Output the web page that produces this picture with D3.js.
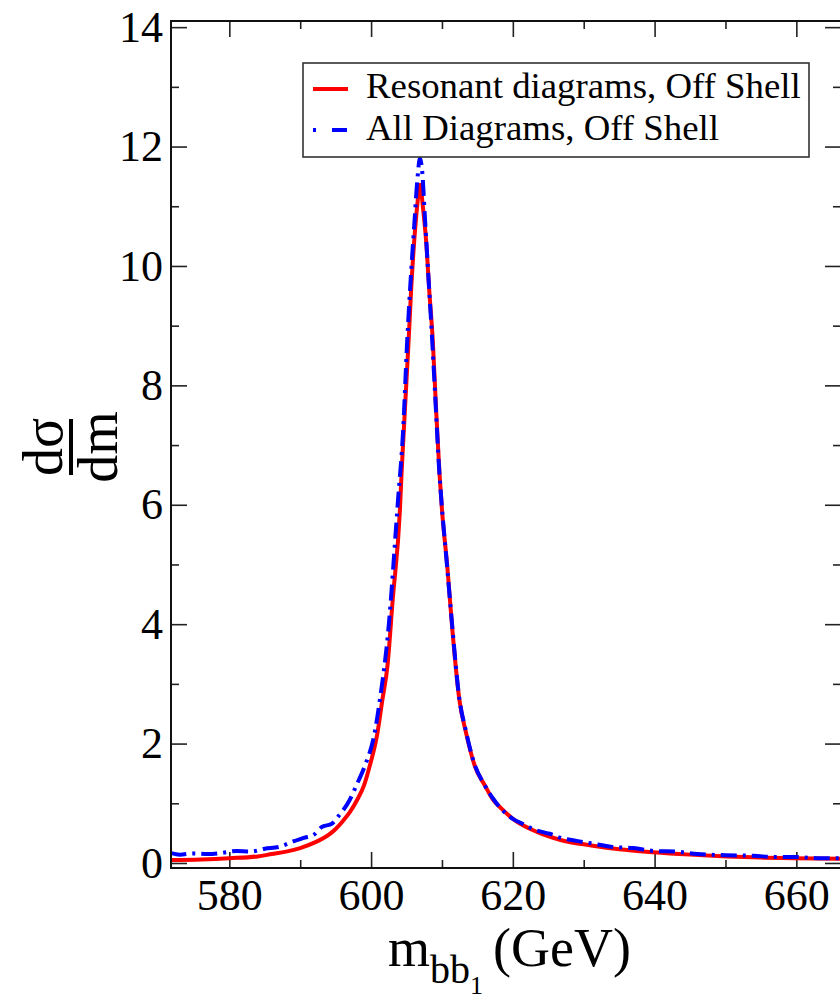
<!DOCTYPE html>
<html>
<head>
<meta charset="utf-8">
<script src="https://cdn.jsdelivr.net/npm/d3@7"></script>
<style>
  body { margin: 0; background: #fff; }
  svg { display: block; }
</style>
</head>
<body>
<div id="grafico"></div>
<script>
// dados: massa (GeV) e dσ/dm
const massaRes = [571.7, 576, 580, 584, 586, 588, 590, 592, 594, 595, 596, 597, 598, 599, 599.75, 600.9, 601.6, 602.3,
  603.05, 604.07, 604.3, 604.8, 605.3, 605.65, 606.1, 606.5, 606.92, 607.3, 607.75, 608.2, 608.7, 609.15,
  609.65, 610.0, 610.75, 611.5, 612.45, 613.4, 614.65, 616.1, 617.2, 618.4, 620.1, 623.4, 626.6, 631.3,
  635, 639.8, 645, 650.2, 655, 659.5, 666.5];
const valorRes = [0.05, 0.06, 0.08, 0.11, 0.15, 0.19, 0.25, 0.34, 0.47, 0.57, 0.7, 0.85, 1.05, 1.3, 1.6, 2.18, 2.74, 3.29,
  4.41, 5.92, 6.53, 7.65, 8.76, 9.6, 10.44, 11.0, 11.36, 11.0, 10.44, 9.6, 8.76, 7.65,
  6.53, 5.92, 4.97, 3.86, 2.74, 2.18, 1.62, 1.29, 1.06, 0.91, 0.73, 0.52, 0.39, 0.29,
  0.23, 0.18, 0.14, 0.11, 0.09, 0.08, 0.07];

const massaAll = [571.7, 573, 575, 577, 579, 581, 583, 585, 587, 589, 590.5, 592, 593, 594.5, 595.5, 597, 598,
  599.1, 600.5, 601.25, 602.4, 603.8, 604.5, 605.1, 605.6, 606.1, 606.5, 606.9, 607.2, 607.6, 608.1,
  608.6, 609.1, 609.6, 610.0, 610.7, 611.5, 612.4, 613.4, 614.6, 615.9, 617.2, 618.4, 620, 621.5, 623,
  624.8, 625.5, 626.5, 629, 631, 634, 637, 640, 643, 646, 650, 654, 657, 660, 663, 666.5];
const valorAll = [0.17, 0.14, 0.16, 0.15, 0.17, 0.2, 0.19, 0.24, 0.27, 0.36, 0.42, 0.48, 0.6, 0.66, 0.8, 1.06, 1.32,
  1.62, 2.18, 2.74, 3.86, 6.08, 7.2, 8.76, 9.8, 10.7, 11.4, 11.8, 11.6, 10.8, 9.8,
  8.8, 7.7, 6.6, 5.95, 5.0, 3.9, 2.8, 2.2, 1.65, 1.33, 1.08, 0.9, 0.74, 0.65, 0.56,
  0.5, 0.48, 0.43, 0.37, 0.33, 0.27, 0.25, 0.2, 0.19, 0.15, 0.13, 0.12, 0.1, 0.1, 0.08, 0.08];

const ticksX = [580, 600, 620, 640, 660];
const ticksXMenores = [590, 610, 630, 650];
const ticksY = [0, 2, 4, 6, 8, 10, 12, 14];
const ticksYMenores = [1, 3, 5, 7, 9, 11, 13];

const legendas = ["Resonant diagrams, Off Shell", "All Diagrams, Off Shell"];

const largura = 840, altura = 999;
const margin = { top: 21, bottom: 131, left: 171, right: -1 };

const svg = d3.select("#grafico").append("svg")
  .attr("width", largura).attr("height", altura);

const x = d3.scaleLinear().domain([571.77, 666.3])
  .range([margin.left, largura - margin.right]);
const y = d3.scaleLinear().domain([-0.084, 14.103])
  .range([altura - margin.bottom, margin.top]);

const x0 = margin.left, x1 = largura - margin.right;
const y0 = altura - margin.bottom, y1 = margin.top;

svg.append("clipPath").attr("id", "area")
  .append("rect").attr("x", x0).attr("y", y1).attr("width", x1 - x0).attr("height", y0 - y1);

// eixos (ticks para dentro, nos quatro lados)
function eixo(gen, valores, tam, tx, ty, rotulos) {
  const g = svg.append("g").attr("transform", `translate(${tx},${ty})`)
    .call(gen.tickValues(valores).tickSize(-tam).tickPadding(rotulos ? 12 : 0)
      .tickFormat(rotulos ? d3.format("d") : ""));
  g.select(".domain").remove();
  g.selectAll(".tick line").attr("stroke", "#222").attr("stroke-width", 1.6);
  g.selectAll(".tick text").attr("fill", "#000").style("font-size", "44px");
  return g;
}
const gx = eixo(d3.axisBottom(x), ticksX, 16, 0, y0, true);
gx.selectAll(".tick text").attr("dy", "0.71em").attr("y", 11);
eixo(d3.axisBottom(x), ticksXMenores, 8, 0, y0, false);
eixo(d3.axisTop(x), ticksX, 16, 0, y1, false);
eixo(d3.axisTop(x), ticksXMenores, 8, 0, y1, false);
const gy = eixo(d3.axisLeft(y), ticksY, 16, x0, 0, true);
gy.selectAll(".tick text").attr("x", -8);
eixo(d3.axisLeft(y), ticksYMenores, 8, x0, 0, false);
eixo(d3.axisRight(y), ticksY, 16, x1, 0, false);
eixo(d3.axisRight(y), ticksYMenores, 8, x1, 0, false);

// curvas
const linha = d3.line().x(d => x(d[0])).y(d => y(d[1])).curve(d3.curveMonotoneX);
const dadosRes = massaRes.map((m, i) => [m, valorRes[i]]);
const dadosAll = massaAll.map((m, i) => [m, valorAll[i]]);

svg.append("path").datum(dadosRes)
  .attr("clip-path", "url(#area)")
  .attr("d", linha).attr("fill", "none")
  .attr("stroke", "#ff0000").attr("stroke-width", 4);

svg.append("path").datum(dadosAll)
  .attr("clip-path", "url(#area)")
  .attr("d", linha).attr("fill", "none")
  .attr("stroke", "#0000ff").attr("stroke-width", 4)
  .attr("stroke-dasharray", "16,6,3,6");

// moldura
svg.append("rect").attr("x", x0).attr("y", y1)
  .attr("width", x1 - x0).attr("height", y0 - y1)
  .attr("fill", "none").attr("stroke", "#111").attr("stroke-width", 2);

// legenda
const leg = svg.append("g");
leg.append("rect").attr("x", 303).attr("y", 63).attr("width", 506).attr("height", 94)
  .attr("fill", "#fff").attr("stroke", "#333").attr("stroke-width", 1.6);
const estilos = [
  { cor: "#ff0000", dash: null, yl: 89, yt: 98 },
  { cor: "#0000ff", dash: "3,16,15,6", yl: 130, yt: 140 }
];
legendas.forEach((t, i) => {
  const e = estilos[i];
  const l = leg.append("line").attr("x1", 313).attr("x2", 348).attr("y1", e.yl).attr("y2", e.yl)
    .attr("stroke", e.cor).attr("stroke-width", 4);
  if (e.dash) l.attr("stroke-dasharray", e.dash);
  leg.append("text").attr("x", 366).attr("y", e.yt).style("font-size", "36.8px").text(t);
});

// rótulo eixo X
const rx = svg.append("text").attr("x", 388).attr("y", 966).style("font-size", "54px");
rx.append("tspan").text("m");
rx.append("tspan").attr("dy", 17).style("font-size", "40px").text("bb");
rx.append("tspan").attr("dy", 11).style("font-size", "26px").text("1");
rx.append("tspan").attr("dy", -28).attr("dx", 10).style("font-size", "54px").text("(GeV)");

// rótulo eixo Y (fração dσ/dm)
const ry = svg.append("g").attr("transform", "translate(70,447) rotate(-90)");
ry.append("text").attr("x", 0).attr("y", -8).attr("text-anchor", "middle")
  .style("font-size", "56px").text("dσ");
ry.append("line").attr("x1", -28).attr("x2", 28).attr("y1", 1).attr("y2", 1)
  .attr("stroke", "#000").attr("stroke-width", 4);
ry.append("text").attr("x", 0).attr("y", 47).attr("text-anchor", "middle")
  .style("font-size", "56px").text("dm");

// fonte serifada em todos os textos
svg.selectAll("text, tspan").style("font-family", '"Liberation Serif"');
</script>
</body>
</html>
